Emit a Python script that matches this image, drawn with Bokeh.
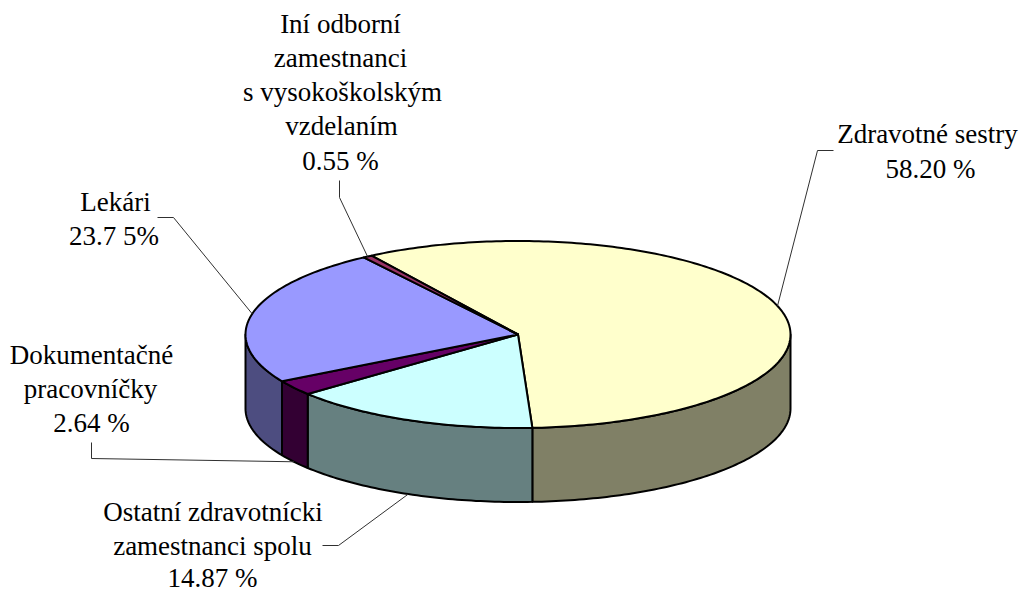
import math
from bokeh.plotting import figure
from bokeh.models import ColumnDataSource, Range1d
from bokeh.core.properties import value
from bokeh.embed import file_html
from bokeh.resources import INLINE

categories = ["Zdravotné sestry", "Ostatní zdravotnícki zamestnanci spolu", "Dokumentačné pracovníčky", "Lekári", "Iní odborní zamestnanci s vysokoškolským vzdelaním"]
shares = [58.20, 14.87, 2.64, 23.75, 0.55]
top_colors = ["#FFFFCC", "#CCFFFF", "#660066", "#9999FF", "#993366"]
side_colors = ["#808066", "#668080", "#330033", "#4D4D80", "#4D1A33"]
# label lines: category index, then text
label_lines = [
    ["Zdravotné sestry", "58.20 %"],
    ["Ostatní zdravotnícki", "zamestnanci spolu", "14.87 %"],
    ["Dokumentačné", "pracovníčky", "2.64 %"],
    ["Lekári", "23.7 5%"],
    ["Iní odborní", "zamestnanci", "s vysokoškolským", "vzdelaním", "0.55 %"],
]
label_x = [[927, 930], [212.5, 212, 212], [91, 90, 91], [115, 113.5], [340, 340, 342, 341, 340]]
label_y = [[133, 168], [511, 545, 577], [354, 388, 422], [201, 235], [23, 57, 91, 125, 160]]
# leader elbow points beginning at the label
leader_elbows = [[(833, 150), (817, 150)], [(322, 545), (338, 545)], [(91, 442), (91, 458)], [(157, 217), (173, 217)], [(339, 180), (339, 197)]]

CX, CY, RX, RY, DEPTH = 517.5, 334.0, 272.5, 93.5, 74.0
START = 87.0 - shares[0] * 3.6  # parameter angle where first slice starts (screen clockwise)

def pt(t, dy=0.0):
    r = math.radians(t)
    return CX + RX * math.cos(r), CY + RY * math.sin(r) + dy

def arc(a, b):
    n = max(2, int(abs(b - a)) + 2)
    return [a + (b - a) * i / (n - 1) for i in range(n)]

total = sum(shares)
spans, cur = [], START
for s in shares:
    d = s / total * 360
    spans.append((cur, cur + d))
    cur += d

p = figure(width=1026, height=593, output_backend="svg", toolbar_location=None,
           x_range=Range1d(0, 1026), y_range=Range1d(593, 0), min_border=0,
           outline_line_color=None, background_fill_color="white", border_fill_color="white")
p.axis.visible = False
p.grid.visible = False

# Side walls (front half of the rim only)
sx, sy, sc = [], [], []
for (a, b), c in zip(spans, side_colors):
    for shift in (0, 360, -360):
        lo, hi = max(a + shift, 0), min(b + shift, 180)
        if lo < hi:
            ts = arc(lo, hi)
            upper = [pt(t) for t in ts]
            lower = [pt(t, DEPTH) for t in reversed(ts)]
            poly = upper + lower
            sx.append([q[0] for q in poly]); sy.append([q[1] for q in poly]); sc.append(c)
p.patches(sx, sy, fill_color=sc, line_color="black", line_width=2, line_join="round")

# Top face
tx, ty = [], []
for a, b in spans:
    poly = [(CX, CY)] + [pt(t) for t in arc(a, b)]
    tx.append([q[0] for q in poly]); ty.append([q[1] for q in poly])
p.patches(tx, ty, fill_color=top_colors, line_color="black", line_width=2, line_join="round")

# Leaders, ending at each slice's mid angle
lx, ly = [], []
for (a, b), elbow in zip(spans, leader_elbows):
    m = ((a + b) / 2) % 360
    end = pt(m, DEPTH if 0 < m < 180 else 0)
    poly = elbow + [end]
    lx.append([q[0] for q in poly]); ly.append([q[1] for q in poly])
p.multi_line(lx, ly, line_color="#303030", line_width=1)

# Labels
tsrc = ColumnDataSource(dict(
    x=[v for r in label_x for v in r],
    y=[v for r in label_y for v in r],
    t=[v for r in label_lines for v in r],
))
p.text("x", "y", text="t", source=tsrc, text_font=value("Liberation Serif"), text_font_size="27px",
       text_align="center", text_baseline="middle", text_color="black")

open("out.html", "w").write(file_html(p, INLINE))
